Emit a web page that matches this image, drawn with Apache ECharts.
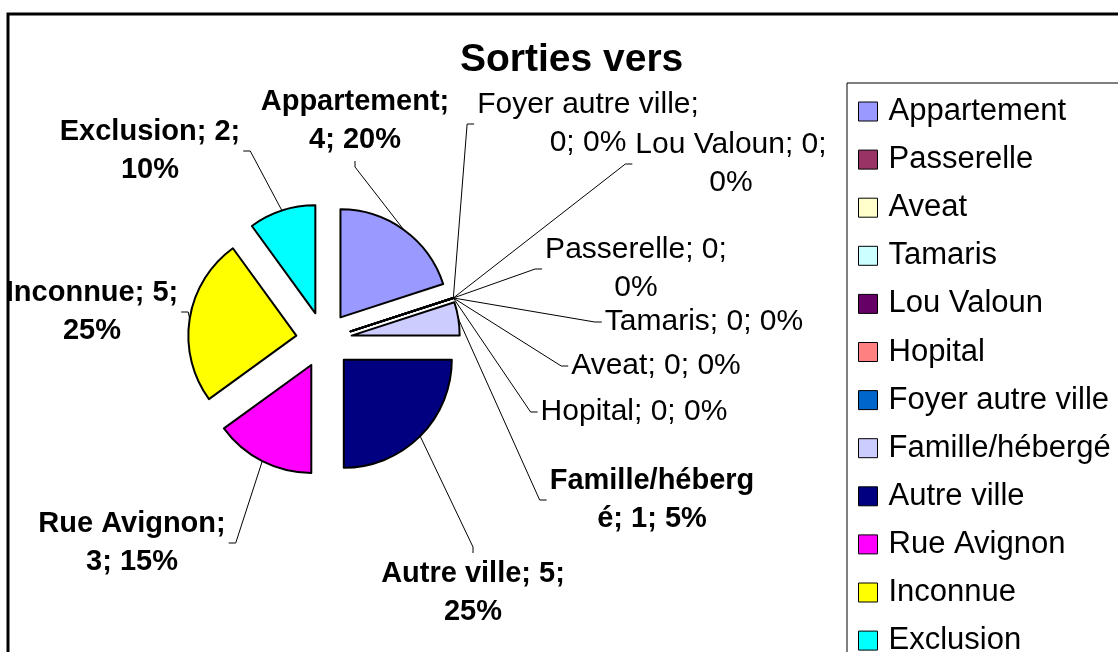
<!DOCTYPE html>
<html><head><meta charset="utf-8">
<script src="https://cdn.jsdelivr.net/npm/echarts@6/dist/echarts.min.js"></script>
<style>html,body{margin:0;padding:0;background:#fff}#c{width:1118px;height:652px}</style>
</head><body><div id="c"></div>
<script>
// ---- data ----
const titleText = 'Sorties vers';
const categories = ['Appartement','Passerelle','Aveat','Tamaris','Lou Valoun','Hopital','Foyer autre ville','Famille/hébergé','Autre ville','Rue Avignon','Inconnue','Exclusion'];
const values = [4,0,0,0,0,0,0,1,5,3,5,2];
const colors = ['#9999FF','#993366','#FFFFCC','#CCFFFF','#660066','#FF8080','#0066CC','#CCCCFF','#000080','#FF00FF','#FFFF00','#00FFFF'];

// ---- layout / style (not data) ----
const FONT = '"Liberation Sans", Arial, sans-serif';
const CENTER = [324, 340];
const RADIUS = 108;
const EXPLODE = 28;
// wrap: 'name' = break after the name, 'value' = break after the value, number = break after n characters
const labelPlacement = {
  'Appartement':       {x:355, y:121, wrap:'name', bold:true},
  'Passerelle':        {x:636, y:269, wrap:'value'},
  'Aveat':             {x:656, y:366},
  'Tamaris':           {x:704, y:322},
  'Lou Valoun':        {x:731, y:164, wrap:'value'},
  'Hopital':           {x:634, y:412},
  'Foyer autre ville': {x:588, y:124, wrap:'name'},
  'Famille/hébergé':   {x:652, y:500, wrap:14, bold:true},
  'Autre ville':       {x:473, y:593, wrap:'value', bold:true},
  'Rue Avignon':       {x:132, y:543, wrap:'name', bold:true},
  'Inconnue':          {x:92,  y:312, wrap:'value', bold:true},
  'Exclusion':         {x:150, y:151, wrap:'value', bold:true}
};

// exploded slices (no labels)
const sliceData = categories.map(function (name, i) {
  return { name: name, value: values[i], selected: true, itemStyle: { color: colors[i] } };
});
// transparent label carrier at the exploded outer radius
const labelData = categories.map(function (name, i) {
  const p = labelPlacement[name];
  return {
    name: name, value: values[i],
    label: { fontWeight: p.bold ? 'bold' : 'normal', fontSize: p.bold ? 29 : 30 }
  };
});

function labelText(p) {
  const w = labelPlacement[p.name].wrap;
  const a = p.name + ';', b = p.value + ';', c = p.percent + '%';
  if (w === 'name') return a + '\n' + b + ' ' + c;
  if (w === 'value') return a + ' ' + b + '\n' + c;
  const full = a + ' ' + b + ' ' + c;
  if (typeof w === 'number') return full.slice(0, w) + '\n' + full.slice(w);
  return full;
}

function leader(p) {
  const pl = labelPlacement[categories[p.dataIndex]];
  const w = p.labelRect.width, h = p.labelRect.height;
  const res = { x: pl.x, y: pl.y, align: 'center', verticalAlign: 'middle' };
  if (p.labelLinePoints && p.labelLinePoints.length) {
    const s = p.labelLinePoints[0];
    const l = pl.x - w / 2, r = pl.x + w / 2, t = pl.y - h / 2, b = pl.y + h / 2;
    let e, m;
    if (s[0] < l) { e = [l - 3, pl.y]; m = [l - 10, pl.y]; }
    else if (s[0] > r) { e = [r + 3, pl.y]; m = [r + 10, pl.y]; }
    else if (s[1] > b) { e = [pl.x, b + 2]; m = [pl.x, b + 8]; }
    else { e = [pl.x, t - 2]; m = [pl.x, t - 8]; }
    res.labelLinePoints = [s, m, e];
  }
  return res;
}

const chart = echarts.init(document.getElementById('c'), null, { renderer: 'canvas' });
chart.setOption({
  animation: false,
  backgroundColor: '#fff',
  title: {
    text: titleText, left: 455, top: 36,
    textStyle: { fontSize: 39, fontWeight: 'bold', fontFamily: FONT, color: '#000' }
  },
  legend: {
    orient: 'vertical', left: 847, top: 83, height: 640,
    padding: [13, 40, 60, 11], itemGap: 17.1, itemWidth: 19, itemHeight: 19,
    icon: 'rect', borderColor: '#000', borderWidth: 1, selectedMode: false,
    itemStyle: { borderColor: '#000', borderWidth: 1 },
    textStyle: { fontSize: 31, fontFamily: FONT, color: '#000', lineHeight: 30, padding: [0, 0, 0, 6] },
    data: categories
  },
  graphic: [{
    type: 'rect', silent: true, z: 100,
    shape: { x: 8, y: 14, width: 1300, height: 800 },
    style: { fill: 'none', stroke: '#000', lineWidth: 3 }
  }],
  series: [{
    type: 'pie', name: 'slices',
    center: CENTER, radius: RADIUS, startAngle: 90, clockwise: true,
    selectedMode: 'multiple', selectedOffset: EXPLODE, avoidLabelOverlap: false,
    itemStyle: { borderColor: '#000', borderWidth: 2 },
    select: { itemStyle: { borderColor: '#000', borderWidth: 2 } },
    emphasis: { disabled: true },
    label: { show: false }, labelLine: { show: false },
    data: sliceData
  }, {
    type: 'pie', name: 'labels', silent: true, z: 3,
    center: CENTER, radius: RADIUS + EXPLODE, startAngle: 90, clockwise: true,
    avoidLabelOverlap: false,
    itemStyle: { color: 'rgba(0,0,0,0)', borderWidth: 0 },
    emphasis: { disabled: true },
    label: {
      show: true, position: 'outside', color: '#000', fontFamily: FONT, fontSize: 29, lineHeight: 38, align: 'center',
      formatter: labelText
    },
    labelLine: { show: true, length: 10, length2: 10, lineStyle: { color: '#000', width: 1 } },
    labelLayout: leader,
    data: labelData
  }]
});
</script></body></html>
